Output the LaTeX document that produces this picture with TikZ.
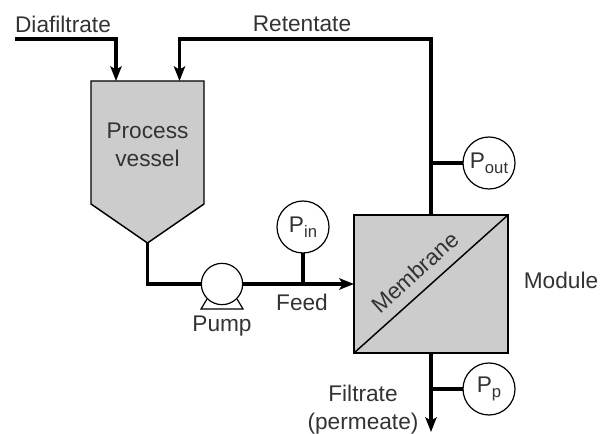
\documentclass[tikz,border=0pt]{standalone}
\usepackage{fontspec}
\setmainfont{Liberation Sans}
\usetikzlibrary{arrows.meta}

\tikzset{
    pipe/.style={line width=2.3pt},
    thinpipe/.style={line width=1.1pt},
    gauge/.style={circle, draw, line width=0.9pt, fill=white, minimum size=39pt, inner sep=0pt, outer sep=0pt, font=\fontsize{17}{21}\selectfont, text=black!80},
    label/.style={inner sep=0pt, align=center, font=\fontsize{17}{21}\selectfont, text=black!80},
    tank/.style={draw, line width=1.1pt, fill=black!20}
}
\newcommand{\gaugetext}[1]{P\raisebox{-0.45ex}{\fontsize{12.5}{13}\selectfont #1}}

\begin{document}
\begin{tikzpicture}[>={Stealth[length=11pt,width=8.5pt,inset=2.5pt]}, x=0.75pt, y=-0.75pt]
    \useasboundingbox (0,0) rectangle (600,434);

    % Process vessel
    \coordinate (diaturn) at (116,39);
    \coordinate (diastart) at (15,39);
    \coordinate (diain) at (116,81);
    \coordinate (retturn) at (179.5,39);
    \coordinate (retin) at (179.5,81);
    \coordinate (apex) at (147.5,243);
    \draw[tank] (91,81) -- (204,81) -- (204,204) -- (apex) -- (91,204) -- cycle;
    \node[label] (vessel) at (147.5,145) {Process\\vessel};

    % Pump, module and gauges
    \node[draw, line width=1.1pt, fill=black!20, minimum width=115.5pt, minimum height=103.5pt, inner sep=0pt, outer sep=0pt] (module) at (431,284) {};
    \node[gauge] (pin) at (303,227) {\gaugetext{in}};
    \node[gauge] (pout) at (489,163) {\gaugetext{out}};
    \node[gauge] (pp) at (489,389) {\gaugetext{p}};
    \coordinate (filtend) at (431,432);

    % Pipes
    \draw[pipe,->] (diastart) -- (diaturn) -- (diain);
    \draw[pipe,->] (module.north) |- (retturn) -- (retin);
    \draw[pipe,->] (apex) |- (module.west);
    \draw[pipe,->] (module.south) -- (filtend);
    \draw[pipe] (pin) -- (pin |- module.west);
    \draw[pipe] (pout) -- (pout -| module.north);
    \draw[pipe] (pp) -- (pp -| module.south);

    % Pump drawn over the feed line
    \node[circle, draw, line width=0.9pt, fill=white, minimum size=31pt, inner sep=0pt, outer sep=0pt] (pump) at (222,284) {};
    \coordinate (footl) at (201,309);
    \coordinate (footr) at (243,309);
    \draw[line width=0.9pt] (207,299) -- (footl) -- (footr) -- (237,299);

    % Membrane
    \draw[thinpipe] (module.south west) -- (module.north east);
    \node[label, rotate=42] (membrane) at (415,272) {Membrane};

    % Labels
    \node[label] (diafiltrate) at (63,24) {Diafiltrate};
    \node[label] (retentate) at (302,24) {Retentate};
    \node[label] (feed) at (302,302) {Feed};
    \node[label] (pumplabel) at (222,326) {Pump};
    \node[label] (modulelabel) at (561,280) {Module};
    \node[label] (filtrate) at (363,410) {Filtrate\\(permeate)};
\end{tikzpicture}
\end{document}
